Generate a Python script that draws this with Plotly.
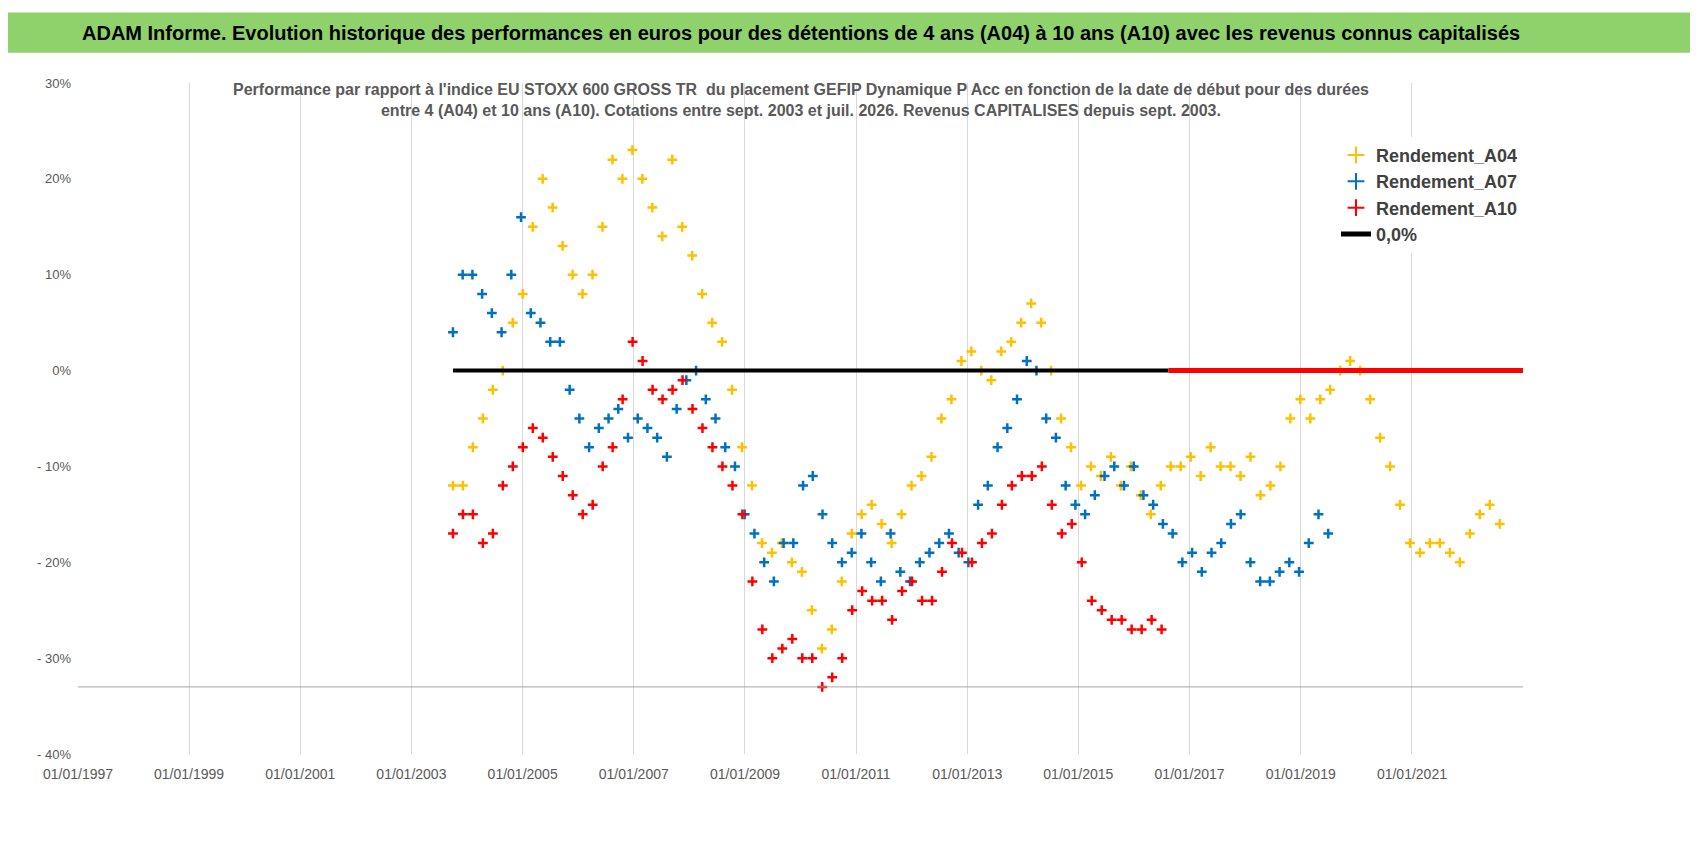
import plotly.graph_objects as go
import pandas as pd

a04 = [-12,-12,-8,-5,-2,0,5,8,15,20,17,13,10,8,10,15,22,20,23,20,17,14,22,15,12,8,5,3,-2,-8,-12,-18,-19,-18,-20,-21,-25,-29,-27,-22,-17,-15,-14,-16,-18,-15,-12,-11,-9,-5,-3,1,2,0,-1,2,3,5,7,5,0,-5,-8,-12,-10,-11,-9,-12,-10,-13,-15,-12,-10,-10,-9,-11,-8,-10,-10,-11,-9,-13,-12,-10,-5,-3,-5,-3,-2,0,1,0,-3,-7,-10,-14,-18,-19,-18,-18,-19,-20,-17,-15,-14,-16]
a07 = [4,10,10,8,6,4,10,16,6,5,3,3,-2,-5,-8,-6,-5,-4,-7,-5,-6,-7,-9,-4,-1,0,-3,-5,-8,-10,-15,-17,-20,-22,-18,-18,-12,-11,-15,-18,-20,-19,-17,-20,-22,-17,-21,-22,-20,-19,-18,-17,-19,-20,-14,-12,-8,-6,-3,1,0,-5,-7,-12,-14,-15,-13,-11,-10,-12,-10,-13,-14,-16,-17,-20,-19,-21,-19,-18,-16,-15,-20,-22,-22,-21,-20,-21,-18,-15,-17]
a10 = [-17,-15,-15,-18,-17,-12,-10,-8,-6,-7,-9,-11,-13,-15,-14,-10,-8,-3,3,1,-2,-3,-2,-1,-4,-6,-8,-10,-12,-15,-22,-27,-30,-29,-28,-30,-30,-33,-32,-30,-25,-23,-24,-24,-26,-23,-22,-24,-24,-21,-18,-19,-20,-18,-17,-14,-12,-11,-11,-10,-14,-17,-16,-20,-24,-25,-26,-26,-27,-27,-26,-27]
ticks = ["01/01/%d" % y for y in range(1997, 2023, 2)]

d04 = pd.date_range("2003-10-01", "2022-08-01", periods=len(a04))
d07 = pd.date_range("2003-10-01", "2019-07-01", periods=len(a07))
d10 = pd.date_range("2003-10-01", "2016-07-01", periods=len(a10))

def mk(c):
    return dict(symbol="cross-thin", size=7, line=dict(color=c, width=2.5), color=c)

fig = go.Figure()
fig.add_trace(go.Scatter(x=d04, y=[v/100 for v in a04], mode="markers", name="<b>Rendement_A04</b>", marker=mk("#FFC000")))
fig.add_trace(go.Scatter(x=d07, y=[v/100 for v in a07], mode="markers", name="<b>Rendement_A07</b>", marker=mk("#0070C0")))
fig.add_trace(go.Scatter(x=d10, y=[v/100 for v in a10], mode="markers", name="<b>Rendement_A10</b>", marker=mk("#FF0000")))
fig.add_trace(go.Scatter(x=[d04[0], pd.Timestamp("2016-08-15")], y=[0, 0], mode="lines", name="<b>0,0%</b>", line=dict(color="black", width=4)))
fig.add_trace(go.Scatter(x=[pd.Timestamp("2016-08-15"), pd.Timestamp("2023-01-01")], y=[0, 0], mode="lines", showlegend=False, line=dict(color="#FF0000", width=5)))

tickvals = [pd.Timestamp("%d-01-01" % y) for y in range(1997, 2023, 2)]
fig.update_layout(
    width=1698, height=856, paper_bgcolor="white", plot_bgcolor="white",
    margin=dict(l=70, r=183, t=75, b=110),
    font=dict(family="Liberation Sans, Arial, sans-serif", color="#595959", size=14),
    xaxis=dict(range=[pd.Timestamp("1997-01-01"), pd.Timestamp("2023-01-01")], tickvals=tickvals, ticktext=ticks,
               showgrid=True, gridcolor="#D9D9D9", zeroline=False, tickfont=dict(size=14, color="#595959"), ticks="",
               ticklabelstandoff=10),
    yaxis=dict(range=[-0.40, 0.30], tickvals=[-0.4,-0.3,-0.2,-0.1,0,0.1,0.2,0.3],
               ticktext=["- 40%","- 30%","- 20%","- 10%","0%","10%","20%","30%"], showgrid=False, zeroline=False,
               tickfont=dict(size=13, color="#595959"), ticklabelstandoff=6),
    legend=dict(x=1.0, xanchor="right", y=0.92, yanchor="top", bgcolor="white", font=dict(size=18, color="#404040"),
                itemsizing="constant", tracegroupgap=24),
    shapes=[
        dict(type="rect", xref="paper", yref="paper", x0=-0.06, x1=1.16, y0=1.045, y1=1.105, fillcolor="#8FD16B", line=dict(width=0), layer="below"),
        dict(type="line", xref="paper", yref="y", x0=0, x1=1, y0=-0.33, y1=-0.33, line=dict(color="#A6A6A6", width=1)),
    ],
    annotations=[
        dict(text="<b>ADAM Informe. Evolution historique des performances en euros pour des détentions de 4 ans (A04) à 10 ans (A10) avec les revenus connus capitalisés</b>",
             xref="paper", yref="paper", x=0.5, y=1.075, showarrow=False, font=dict(size=20, color="black"), xanchor="center", yanchor="middle"),
        dict(text="<b>Performance par rapport à l'indice EU STOXX 600 GROSS TR  du placement GEFIP Dynamique P Acc en fonction de la date de début pour des durées<br>entre 4 (A04) et 10 ans (A10). Cotations entre sept. 2003 et juil. 2026. Revenus CAPITALISES depuis sept. 2003.</b>",
             xref="paper", yref="paper", x=0.5, y=0.975, showarrow=False, font=dict(size=16, color="#595959"), xanchor="center", yanchor="middle"),
    ],
)
fig.write_html("out.html")
